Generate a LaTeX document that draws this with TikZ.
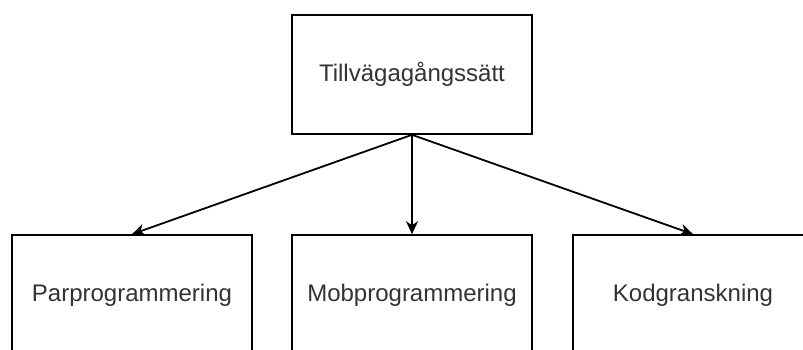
\documentclass[tikz,border=0pt]{standalone}
\usepackage{fontspec}
\setmainfont{Liberation Sans}
\usetikzlibrary{arrows.meta}
\definecolor{txt}{RGB}{51,51,51}
\begin{document}
\begin{tikzpicture}[x=1bp,y=-1bp,
  box/.style={draw=black,line width=1.6bp,fill=white,minimum width=240bp,text=txt,
    font=\fontsize{24bp}{28bp}\selectfont,inner sep=0pt},
  conn/.style={line width=1.8bp,-{Stealth[length=13bp,width=12bp,inset=4bp]}}]
\useasboundingbox (0,0) rectangle (803,349);
\clip (0,0) rectangle (803,349);
\fill[white] (0,0) rectangle (803,349);
\node[box,minimum height=119bp] (top) at (412,74.5) {Tillvägagångssätt};
\node[box,minimum height=120bp] (pair) at (132,295) {Parprogrammering};
\node[box,minimum height=120bp] (mob) at (412,295) {Mobprogrammering};
\node[box,minimum height=120bp] (code) at (693,295) {Kodgranskning};
\draw[conn] (top.south) -- (pair.north);
\draw[conn] (top.south) -- (mob.north);
\draw[conn] (top.south) -- (code.north);
\end{tikzpicture}
\end{document}
